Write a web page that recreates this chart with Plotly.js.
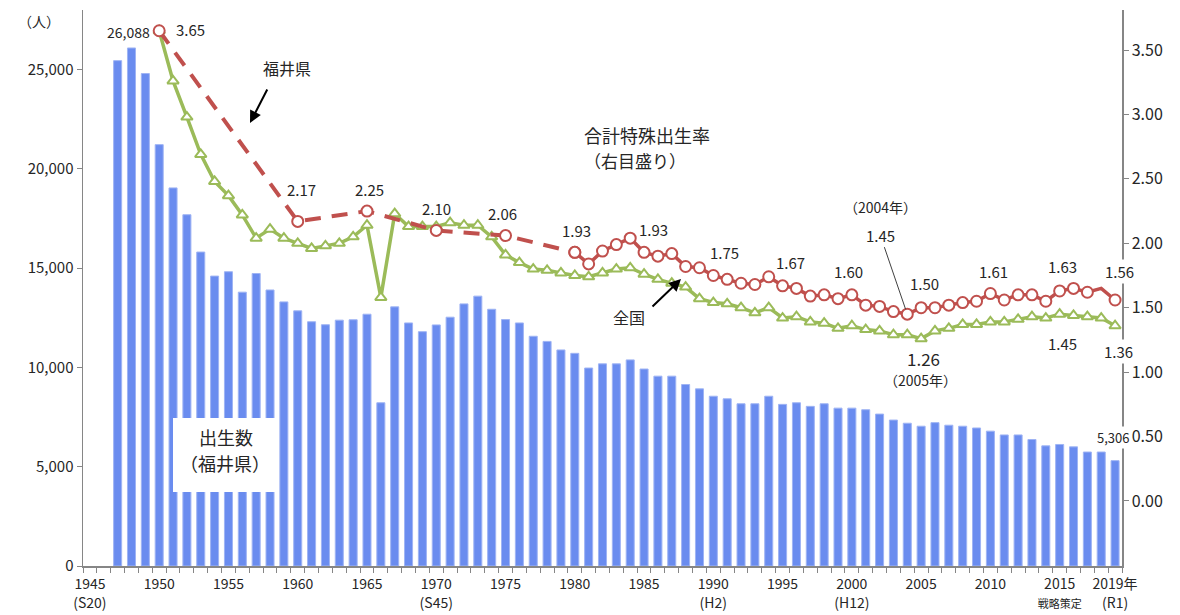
<!DOCTYPE html>
<html>
<head>
<meta charset="utf-8">
<script src="https://cdn.plot.ly/plotly-3.0.1.min.js"></script>
<style>
html,body{margin:0;padding:0;background:#fff;}
#chart{width:1180px;height:615px;}
</style>
</head>
<body>
<div id="chart"></div>
<script>
// ---- Data ----
const birthYears = [1947,1948,1949,1950,1951,1952,1953,1954,1955,1956,1957,1958,1959,1960,1961,1962,1963,1964,1965,1966,1967,1968,1969,1970,1971,1972,1973,1974,1975,1976,1977,1978,1979,1980,1981,1982,1983,1984,1985,1986,1987,1988,1989,1990,1991,1992,1993,1994,1995,1996,1997,1998,1999,2000,2001,2002,2003,2004,2005,2006,2007,2008,2009,2010,2011,2012,2013,2014,2015,2016,2017,2018,2019];
const birthsFukui = [25450,26088,24800,21220,19040,17690,15810,14600,14820,13790,14730,13900,13300,12850,12300,12150,12380,12400,12680,8220,13050,12240,11800,12140,12530,13200,13590,12930,12410,12240,11570,11310,10880,10710,9970,10180,10180,10380,9920,9560,9560,9140,8920,8550,8420,8170,8170,8550,8140,8220,8040,8170,7950,7950,7870,7650,7350,7190,7040,7220,7090,7040,6950,6790,6600,6600,6370,6050,6120,6000,5740,5740,5306];

const nationalYears = [1950,1951,1952,1953,1954,1955,1956,1957,1958,1959,1960,1961,1962,1963,1964,1965,1966,1967,1968,1969,1970,1971,1972,1973,1974,1975,1976,1977,1978,1979,1980,1981,1982,1983,1984,1985,1986,1987,1988,1989,1990,1991,1992,1993,1994,1995,1996,1997,1998,1999,2000,2001,2002,2003,2004,2005,2006,2007,2008,2009,2010,2011,2012,2013,2014,2015,2016,2017,2018,2019];
const tfrNational = [3.65,3.26,2.98,2.69,2.48,2.37,2.22,2.04,2.11,2.04,2.00,1.96,1.98,2.00,2.05,2.14,1.58,2.23,2.13,2.13,2.13,2.16,2.14,2.14,2.05,1.91,1.85,1.80,1.79,1.77,1.75,1.74,1.77,1.80,1.81,1.76,1.72,1.69,1.66,1.57,1.54,1.53,1.50,1.46,1.50,1.42,1.43,1.39,1.38,1.34,1.36,1.33,1.32,1.29,1.29,1.26,1.32,1.34,1.37,1.37,1.39,1.39,1.41,1.43,1.42,1.45,1.44,1.43,1.42,1.36];

const fukuiEarlyYears = [1950,1960,1965,1970,1975,1980];
const tfrFukuiEarly = [3.65,2.17,2.25,2.10,2.06,1.93];
const fukuiYears = [1980,1981,1982,1983,1984,1985,1986,1987,1988,1989,1990,1991,1992,1993,1994,1995,1996,1997,1998,1999,2000,2001,2002,2003,2004,2005,2006,2007,2008,2009,2010,2011,2012,2013,2014,2015,2016,2017,2018,2019];
const tfrFukui = [1.93,1.84,1.94,1.99,2.04,1.93,1.90,1.92,1.82,1.81,1.75,1.72,1.69,1.68,1.74,1.67,1.65,1.59,1.60,1.57,1.60,1.52,1.51,1.47,1.45,1.50,1.50,1.52,1.54,1.55,1.61,1.56,1.60,1.60,1.55,1.63,1.65,1.62,1.65,1.56];

const tickYears = [1945,1950,1955,1960,1965,1970,1975,1980,1985,1990,1995,2000,2005,2010,2015,2019];
const tickLabels = ['1945<br>(S20)','1950','1955','1960','1965','1970<br>(S45)','1975','1980','1985','1990<br>(H2)','1995','2000<br>(H12)','2005','2010',"2015<br><span style='font-size:11px'>戦略策定</span>",'2019年<br>(R1)'];

const fukuiLabelYears = [1950,1960,1965,1970,1975,1980,1985,1990,1995,2000,2005,2010,2015,2019];
const nationalLabelYears = [2015,2019];

// ---- Styles ----
const RED = '#C0504D', GREEN = '#9BBB59', BLUE = '#6A8CEF';
const FONT = '"Noto Sans CJK JP", "Noto Sans", sans-serif';
const TXT = '#262626';

function fukuiValue(y){
  const i = fukuiYears.indexOf(y);
  if (i >= 0) return tfrFukui[i];
  return tfrFukuiEarly[fukuiEarlyYears.indexOf(y)];
}
function nationalValue(y){ return tfrNational[nationalYears.indexOf(y)]; }

const traces = [
  {
    type:'bar', x:birthYears, y:birthsFukui, yaxis:'y', width:0.58,
    marker:{color:BLUE, line:{color:'#9FB4F4', width:1}},
    hoverinfo:'x+y'
  },
  {
    type:'scatter', mode:'lines+markers', x:nationalYears, y:tfrNational, yaxis:'y2',
    line:{color:GREEN, width:3.5},
    marker:{symbol:'triangle-up', size:10, color:'#ffffff', line:{color:GREEN, width:2}}
  },
  {
    type:'scatter', mode:'lines+markers', x:fukuiEarlyYears, y:tfrFukuiEarly, yaxis:'y2',
    line:{color:RED, width:4, dash:'16px,11px'},
    marker:{symbol:'circle', size:11, color:'#ffffff', opacity:1, line:{color:RED, width:2}}
  },
  {
    type:'scatter', mode:'lines+markers', x:fukuiYears, y:tfrFukui, yaxis:'y2',
    line:{color:RED, width:3.5},
    marker:{symbol:'circle', size:fukuiYears.map(y => y===2018 ? 0 : 11), color:'#ffffff', opacity:1, line:{color:RED, width:2}}
  }
];

// label offsets (pixels) for Fukui rate labels
const fukuiOffsets = {
  1950:[31,-1],1960:[4,-32],1965:[3,-22],1970:[0,-22],1975:[-3,-22],1980:[2,-22],
  1985:[9,-23],1990:[11,-23],1995:[8,-23],2000:[-3,-23],2005:[3,-24],2010:[3,-22],2015:[3,-24],2019:[4,-28]
};
const natOffsets = {2015:[3,29], 2019:[3,26]};

const annotations = [];
fukuiLabelYears.forEach(y => {
  const o = fukuiOffsets[y];
  annotations.push({xref:'x', yref:'y2', x:y, y:fukuiValue(y), text:fukuiValue(y).toFixed(2),
    showarrow:false, xshift:o[0], yshift:-o[1], font:{family:FONT, size:15, color:TXT},
    bgcolor: y===2019 ? '#ffffff' : 'rgba(0,0,0,0)'});
});
nationalLabelYears.forEach(y => {
  const o = natOffsets[y];
  annotations.push({xref:'x', yref:'y2', x:y, y:nationalValue(y), text:nationalValue(y).toFixed(2),
    showarrow:false, xshift:o[0], yshift:-o[1], font:{family:FONT, size:15, color:TXT},
    bgcolor: y===2019 ? '#ffffff' : 'rgba(0,0,0,0)'});
});
// 2005 national minimum
annotations.push({xref:'x', yref:'y2', x:2005, y:nationalValue(2005), text:nationalValue(2005).toFixed(2),
  showarrow:false, xshift:2, yshift:-20, font:{family:FONT, size:17, color:TXT}});
annotations.push({xref:'x', yref:'y2', x:2005, y:nationalValue(2005), text:'（2005年）',
  showarrow:false, xshift:-1, yshift:-41, font:{family:FONT, size:14, color:TXT}});
// 2004 Fukui minimum with leader line
annotations.push({xref:'x', yref:'y2', x:2004, y:fukuiValue(2004), text:fukuiValue(2004).toFixed(2),
  showarrow:true, arrowhead:0, arrowwidth:1, arrowcolor:'#404040', axref:'pixel', ayref:'pixel',
  ax:-27, ay:-79, standoff:5, font:{family:FONT, size:15, color:TXT}});
annotations.push({xref:'x', yref:'y2', x:2004, y:fukuiValue(2004), text:'（2004年）',
  showarrow:false, xshift:-27, yshift:107, font:{family:FONT, size:14, color:TXT}});
// births labels
const b1948 = birthsFukui[birthYears.indexOf(1948)];
annotations.push({xref:'x', yref:'y', x:1948, y:b1948, text:b1948.toLocaleString('en-US'),
  showarrow:false, xshift:-3, yshift:16, font:{family:FONT, size:14, color:TXT}});
const b2019 = birthsFukui[birthYears.indexOf(2019)];
annotations.push({xref:'x', yref:'y', x:2019, y:b2019, text:b2019.toLocaleString('en-US'),
  showarrow:false, xshift:-2, yshift:23, font:{family:FONT, size:13, color:TXT}, bgcolor:'#ffffff'});

// text labels (paper coords)
function P(px,py){ return {x:(px-83)/1039, y:(566-py)/556}; }
function addText(px,py,text,size,extra){
  const p = P(px,py);
  annotations.push(Object.assign({xref:'paper', yref:'paper', x:p.x, y:p.y, text:text, showarrow:false,
    xanchor:'center', yanchor:'middle', font:{family:FONT, size:size, color:TXT}}, extra||{}));
}
addText(39,21,'（人）',14);
addText(287,68,'福井県',16);
addText(647,135,'合計特殊出生率',18);
addText(635,160,'（右目盛り）',17);
addText(629,317,'全国',16);
addText(226,437,'出生数',18);
addText(225,463,'（福井県）',18);
// arrows
function addArrow(tipX,tipY,fromX,fromY){
  const p = P(tipX,tipY);
  annotations.push({xref:'paper', yref:'paper', x:p.x, y:p.y, text:'', showarrow:true,
    axref:'pixel', ayref:'pixel', ax:fromX-tipX, ay:fromY-tipY,
    arrowhead:2, arrowsize:1.2, arrowwidth:2, arrowcolor:'#000000'});
}
addArrow(250,123,268,88);
addArrow(681,279,651,308);

const shapes = [
  {type:'rect', xref:'paper', yref:'paper', x0:(173-83)/1039, x1:(278-83)/1039,
   y0:(566-492)/556, y1:(566-418)/556, fillcolor:'#ffffff', line:{width:0}, layer:'above'}
];

const layout = {
  width:1180, height:615,
  margin:{l:83, r:58, t:10, b:49},
  paper_bgcolor:'#ffffff', plot_bgcolor:'#ffffff',
  showlegend:false,
  font:{family:FONT, size:14, color:TXT},
  bargap:0,
  xaxis:{
    type:'linear', range:[1944.5, 2019.5], tickmode:'array', tickvals:tickYears, ticktext:tickLabels,
    ticks:'', showline:true, linecolor:'#868686', linewidth:1.5, showgrid:false, zeroline:false,
    ticklabelstandoff:5,
    tickfont:{family:FONT, size:14, color:TXT},
    minor:{tickmode:'linear', tick0:1944.5, dtick:1, ticks:'outside', ticklen:5, tickcolor:'#868686', tickwidth:1, showgrid:false}
  },
  yaxis:{
    range:[0, 28000], tickmode:'array', tickvals:[0,5000,10000,15000,20000,25000], tickformat:',d',
    ticks:'outside', ticklen:5, tickcolor:'#868686', showline:true, linecolor:'#868686', linewidth:1.5,
    showgrid:false, zeroline:false, tickfont:{family:FONT, size:15, color:TXT}
  },
  yaxis2:{
    overlaying:'y', side:'right', range:[-0.505, 3.811], tickmode:'array',
    tickvals:[0,0.5,1,1.5,2,2.5,3,3.5], tickformat:'.2f',
    ticks:'outside', ticklen:5, tickcolor:'#868686', showline:true, linecolor:'#868686', linewidth:1.5,
    showgrid:false, zeroline:false, tickfont:{family:FONT, size:16, color:TXT}
  },
  annotations:annotations,
  shapes:shapes
};

Plotly.newPlot('chart', traces, layout, {displayModeBar:false, staticPlot:true});
</script>
</body>
</html>
